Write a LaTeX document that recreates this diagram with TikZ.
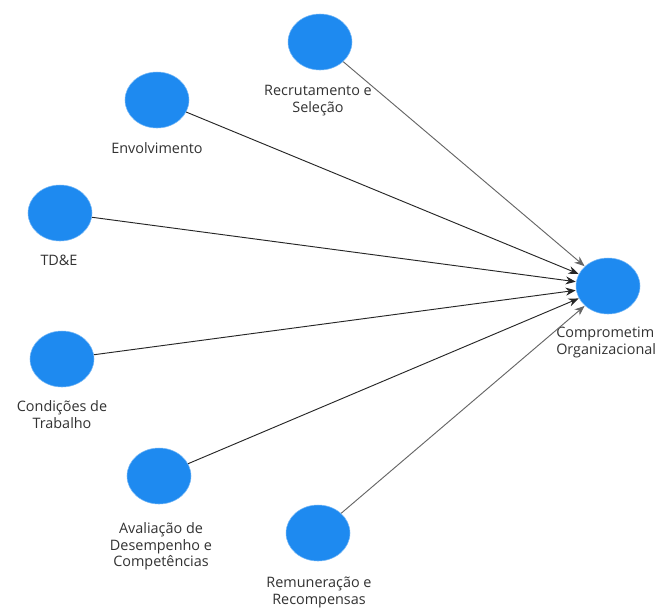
\documentclass[tikz,border=0pt]{standalone}
\usepackage{fontspec}
\setmainfont{Open Sans}
\usetikzlibrary{shapes.geometric,arrows.meta}
\definecolor{lvblue}{RGB}{30,138,240}
\definecolor{lbltext}{RGB}{50,50,50}
\tikzset{
  lv/.style={ellipse, fill=lvblue, draw=lvblue!60!white, line width=0.4pt, minimum width=48pt, minimum height=42pt, inner sep=0pt},
  lbl/.style={anchor=north, align=center, inner sep=0pt, text=lbltext, font=\fontsize{10.8}{12.6}\selectfont},
  path/.style={draw=black!85, line width=0.7pt, -{Stealth[length=7.5pt,width=6pt]}, shorten >=0.3pt}
}
\begin{document}
\begin{tikzpicture}[x=0.75pt,y=-0.75pt]
\useasboundingbox (0,0) rectangle (660,608);
\clip (0,0) rectangle (660,608);
\fill[white] (0,0) rectangle (660,608);
\node[lv] (rec) at (320,42) {};
\node[lv] (env) at (157,100) {};
\node[lv] (tde) at (60,213) {};
\node[lv] (cond) at (62,359) {};
\node[lv] (aval) at (159,476) {};
\node[lv] (rem) at (318,533) {};
\node[lv] (comp) at (608,286) {};
\node[lbl] (recl) at (318,85) {Recrutamento e\\Seleção};
\node[lbl] (envl) at (157,142) {Envolvimento};
\node[lbl] (tdel) at (59,255) {TD\&E};
\node[lbl] (condl) at (62,400) {Condições de\\Trabalho};
\node[lbl] (avall) at (161,522) {Avaliação de\\Desempenho e\\Competências};
\node[lbl] (reml) at (319,577) {Remuneração e\\Recompensas};
\node[lbl, anchor=north west, align=left] (compl) at (556,327) {Comprometim\\Organizacional};
\draw[path, draw=black!60] (rec) -- (comp);
\draw[path] (env) -- (comp);
\draw[path] (tde) -- (comp);
\draw[path] (cond) -- (comp);
\draw[path] (aval) -- (comp);
\draw[path, draw=black!60] (rem) -- (comp);
\end{tikzpicture}
\end{document}
